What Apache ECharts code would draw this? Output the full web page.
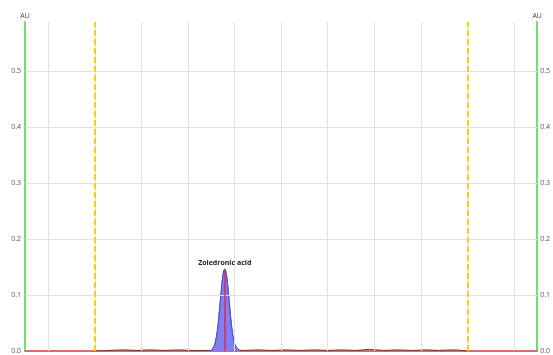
<!DOCTYPE html>
<html>
<head>
<meta charset="utf-8">
<script src="https://cdn.jsdelivr.net/npm/echarts@6/dist/echarts.min.js"></script>
<style>html,body{margin:0;padding:0;background:#fff;}#c{width:553px;height:355px;}</style>
</head>
<body>
<div id="c"></div>
<script>
// Retention time (min) and absorbance (AU)
const yTicks = [0.1, 0.2, 0.3, 0.4, 0.5];
const gridX = [0.5, 1.5, 2.5, 3.5, 4.5, 5.5, 6.5, 7.5, 8.5, 9.5, 10.5];
const windowX = [1.5, 9.5];
const peakName = "Zoledronic acid";
const peakRT = 4.29;
const peakX = [3.99, 4.04, 4.09, 4.13, 4.16, 4.19, 4.21, 4.23, 4.25, 4.27, 4.29, 4.31, 4.33, 4.35, 4.37, 4.39, 4.42, 4.45, 4.49, 4.54, 4.60];
const peakY = [0.001, 0.005, 0.016, 0.035, 0.057, 0.084, 0.102, 0.120, 0.134, 0.143, 0.146, 0.143, 0.134, 0.120, 0.102, 0.084, 0.057, 0.035, 0.017, 0.006, 0.002];
const noiseX = [1.5, 1.8, 2.1, 2.4, 2.7, 3.0, 3.3, 3.6, 3.9, 4.7, 5.0, 5.3, 5.6, 5.9, 6.2, 6.5, 6.8, 7.1, 7.4, 7.7, 8.0, 8.3, 8.6, 8.9, 9.2, 9.5];
const noiseY = [0.000, 0.001, 0.002, 0.001, 0.002, 0.001, 0.002, 0.001, 0.001, 0.001, 0.002, 0.001, 0.002, 0.001, 0.002, 0.001, 0.002, 0.001, 0.003, 0.001, 0.002, 0.001, 0.002, 0.001, 0.002, 0.000];

const peakData = peakX.map((x, i) => [x, peakY[i]]);
const traceData = [];
noiseX.forEach((x, i) => { if (x < peakX[0]) traceData.push([x, noiseY[i]]); });
peakData.forEach(p => traceData.push(p));
noiseX.forEach((x, i) => { if (x > peakX[peakX.length - 1]) traceData.push([x, noiseY[i]]); });
const apexIdx = peakY.indexOf(Math.max(...peakY));

const FONT = "Open Sans";
const yAxisBase = {
  type: 'value', min: 0, max: 0.587, interval: 0.1,
  name: 'AU', nameLocation: 'end', nameGap: 5,
  nameTextStyle: { fontSize: 7, color: '#444', fontFamily: FONT, align: 'center', padding: [0, 0, -2, 0] },
  axisLine: { show: true, lineStyle: { color: '#6fe06f', width: 2 } },
  axisTick: { show: false },
  splitLine: { show: false },
  axisLabel: { fontSize: 7, color: '#555', fontFamily: FONT, margin: 4, showMaxLabel: false,
    formatter: v => v.toFixed(1) }
};

const chart = echarts.init(document.getElementById('c'), null, { renderer: 'canvas' });
chart.setOption({
  animation: false,
  grid: { left: 25, right: 13, top: 22, bottom: 4, containLabel: false },
  xAxis: {
    type: 'value', min: 0, max: 11,
    axisLine: { show: true, onZero: false, lineStyle: { color: '#e06a6a', width: 2 } },
    axisTick: { show: false }, axisLabel: { show: false }, splitLine: { show: false }
  },
  yAxis: [
    Object.assign({}, yAxisBase, { position: 'left' }),
    Object.assign({}, yAxisBase, { position: 'right', axisLabel: Object.assign({}, yAxisBase.axisLabel, { margin: 3 }) })
  ],
  series: [
    {
      type: 'line', data: [], silent: true,
      markLine: {
        silent: true, symbol: 'none', label: { show: false }, animation: false,
        lineStyle: { color: '#dde2e8', width: 1, type: 'solid' },
        data: gridX.map(v => ({ xAxis: v })).concat(yTicks.map(v => ({ yAxis: v })))
      }
    },
    {
      type: 'line', data: traceData, showSymbol: false, smooth: 0.3, z: 3,
      lineStyle: { color: '#6a3535', width: 1 }
    },
    {
      type: 'line', data: peakData, showSymbol: false, smooth: 0.3, z: 4,
      lineStyle: { color: '#4a4ad8', width: 1 },
      areaStyle: { color: '#7b78f2', opacity: 0.95 },
      markLine: {
        silent: true, symbol: 'none', label: { show: false },
        lineStyle: { color: '#d0305a', width: 1.5, type: 'solid' },
        data: [[{ coord: [peakRT, 0] }, { coord: [peakRT, peakY[apexIdx]] }]]
      },
      markPoint: {
        symbol: 'circle', symbolSize: 0,
        label: { show: true, position: 'top', distance: 3, formatter: peakName,
          fontSize: 7, fontWeight: 'bold', color: '#222', fontFamily: FONT },
        data: [{ coord: [peakRT, peakY[apexIdx]] }]
      }
    },
    {
      type: 'line', data: [], silent: true, z: 5,
      markLine: {
        silent: true, symbol: 'none', label: { show: false },
        lineStyle: { color: '#f2d40a', width: 2, type: [6, 3] },
        data: windowX.map(v => ({ xAxis: v }))
      }
    }
  ]
});
</script>
</body>
</html>
